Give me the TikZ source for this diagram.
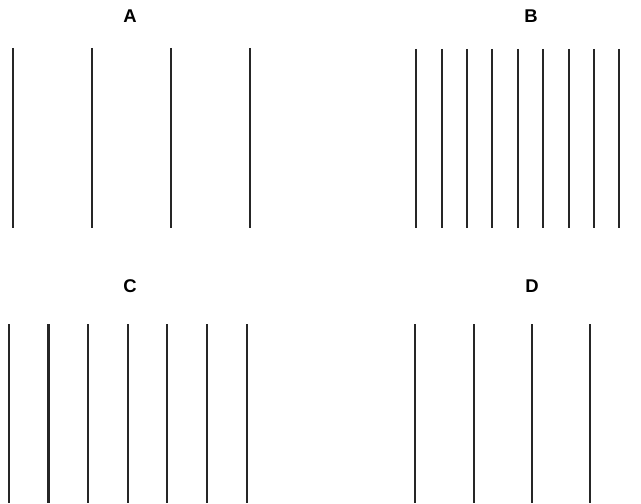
\documentclass[tikz,border=0pt]{standalone}
\usepackage{fontspec}
\setmainfont{Liberation Sans}
\usepackage{tikz}
\usetikzlibrary{positioning}
\tikzset{
slitline/.style = {line width=#1, black!85},
slitline/.default = 1.2pt, % width of one stripe
panellabel/.style = {font=\fontsize{10.5}{12}\selectfont\bfseries, inner sep=0pt}
}
\newcommand{\slit}[4]{\coordinate (#1t) at (#2,#3); \coordinate (#1b) at (#2,#4); \draw[slitline] (#1t) -- (#1b);}

\begin{document}
\begin{tikzpicture}[x=0.02cm,y=-0.02cm]
        \useasboundingbox (0,0) rectangle (641,503);
        \node[panellabel] (labA) at (130,16) {A};
        \node[panellabel] (labB) at (531,16) {B};
        \node[panellabel] (labC) at (130,286) {C};
        \node[panellabel] (labD) at (532,286) {D};
        % panel A
        \slit{a1}{12.7}{48}{228};
        \slit{a2}{92}{48}{228};
        \slit{a3}{171.3}{48}{228};
        \slit{a4}{250.3}{48}{228};
        % panel B
        \slit{b1}{416.3}{49}{228};
        \slit{b2}{441.7}{49}{228};
        \slit{b3}{467}{49}{228};
        \slit{b4}{492.3}{49}{228};
        \slit{b5}{517.7}{49}{228};
        \slit{b6}{543.1}{49}{228};
        \slit{b7}{568.6}{49}{228};
        \slit{b8}{594}{49}{228};
        \slit{b9}{619.3}{49}{228};
        % panel C
        \slit{c1}{8.8}{324}{503};
        \slit{c2}{48.5}{324}{503};
        \slit{c3}{88.2}{324}{503};
        \slit{c4}{127.8}{324}{503};
        \slit{c5}{167.4}{324}{503};
        \slit{c6}{207}{324}{503};
        \slit{c7}{246.7}{324}{503};
        % panel D
        \slit{d1}{415}{324}{503};
        \slit{d2}{473.7}{324}{503};
        \slit{d3}{531.8}{324}{503};
        \slit{d4}{590.3}{324}{503};
\end{tikzpicture}
\end{document}
